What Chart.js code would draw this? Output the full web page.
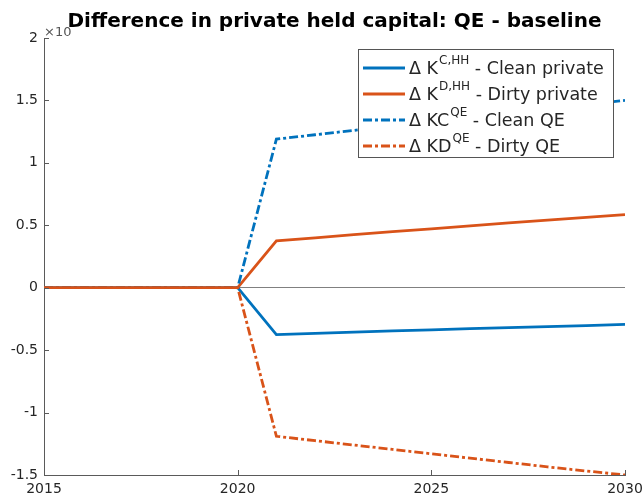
<!DOCTYPE html>
<html>
<head>
<meta charset="utf-8">
<script src="https://cdn.jsdelivr.net/npm/chart.js@4.4.0/dist/chart.umd.min.js"></script>
<style>
  body { margin: 0; background: #fff; }
</style>
</head>
<body>
<canvas id="myChart" width="642" height="496"></canvas>
<script>
// Daten -------------------------------------------------------------------
const years = [2015, 2016, 2017, 2018, 2019, 2020, 2021, 2022, 2023, 2024, 2025, 2026, 2027, 2028, 2029, 2030];

const cleanPrivate = [0, 0, 0, 0, 0, 0, -0.376, -0.366, -0.356, -0.346, -0.337, -0.328, -0.319, -0.311, -0.303, -0.293];
const dirtyPrivate = [0, 0, 0, 0, 0, 0, 0.376, 0.400, 0.425, 0.449, 0.472, 0.496, 0.519, 0.541, 0.563, 0.585];
const cleanQE      = [0, 0, 0, 0, 0, 0, 1.19, 1.225, 1.26, 1.295, 1.33, 1.365, 1.40, 1.435, 1.468, 1.50];
const dirtyQE      = [0, 0, 0, 0, 0, 0, -1.19, -1.225, -1.26, -1.295, -1.33, -1.365, -1.40, -1.435, -1.468, -1.50];

const yTicks = [2, 1.5, 1, 0.5, 0, -0.5, -1, -1.5];
const xTicks = [2015, 2020, 2025, 2030];

// Legende: Basis, Hochgestellt, Rest
const legendBase = ['\u0394 K', '\u0394 K', '\u0394 KC', '\u0394 KD'];
const legendSup  = ['C,HH', 'D,HH', 'QE', 'QE'];
const legendTail = [' - Clean private', ' - Dirty private', ' - Clean QE', ' - Dirty QE'];

const titleText = 'Difference in private held capital: QE - baseline';
//-------------------------------------------------------------------------

const blue = '#0072BD';
const orange = '#D95319';
const axisColor = '#5a5a5a';
const textColor = '#262626';
const dashDot = [9, 3, 3, 3];

function toPoints(arr) {
    return arr.map((v, i) => ({ x: years[i], y: v }));
}

const seriesList = [cleanPrivate, dirtyPrivate, cleanQE, dirtyQE];
const colors = [blue, orange, blue, orange];
const dashes = [[], [], dashDot, dashDot];

// Titel + x10 + Legende selber zeichnen (wegen Hochstellung)
const extraDraw = {
    id: 'extraDraw',
    afterDraw(chart) {
        const c = chart.ctx;
        const area = chart.chartArea;
        c.save();

        // Ticks nach innen wie in Matlab
        const xs = chart.scales.x, ys = chart.scales.y;
        c.strokeStyle = axisColor;
        c.lineWidth = 1;
        c.beginPath();
        xTicks.forEach(t => {
            const px = Math.round(xs.getPixelForValue(t)) + 0.5;
            c.moveTo(px, area.bottom);
            c.lineTo(px, area.bottom - 5);
        });
        yTicks.forEach(t => {
            const py = Math.round(ys.getPixelForValue(t)) + 0.5;
            c.moveTo(area.left, py);
            c.lineTo(area.left + 5, py);
        });
        c.stroke();

        // x10 Exponent
        c.fillStyle = '#555';
        c.font = '13px "DejaVu Sans"';
        c.textAlign = 'left';
        c.textBaseline = 'alphabetic';
        c.fillText('\u00d710', area.left, area.top - 2);

        // Titel
        c.fillStyle = '#000';
        c.font = 'bold 20px "DejaVu Sans"';
        c.textAlign = 'center';
        c.textBaseline = 'middle';
        c.fillText(titleText, (area.left + area.right) / 2, 22);

        // Legende
        const bx = 358, by = 49, bw = 255, bh = 108;
        c.fillStyle = '#fff';
        c.fillRect(bx, by, bw, bh);
        c.strokeStyle = '#555';
        c.lineWidth = 1;
        c.strokeRect(bx + 0.5, by + 0.5, bw, bh);

        for (let i = 0; i < legendBase.length; i++) {
            const y = 68 + i * 26;
            c.strokeStyle = colors[i];
            c.lineWidth = 2.8;
            c.setLineDash(dashes[i]);
            c.beginPath();
            c.moveTo(363, y);
            c.lineTo(405, y);
            c.stroke();
            c.setLineDash([]);

            c.fillStyle = textColor;
            c.textAlign = 'left';
            c.textBaseline = 'middle';
            let x = 409;
            c.font = '17.5px "DejaVu Sans"';
            c.fillText(legendBase[i], x, y + 1);
            x += c.measureText(legendBase[i]).width;
            c.font = '12px "DejaVu Sans"';
            c.fillText(legendSup[i], x + 1, y - 7);
            x += c.measureText(legendSup[i]).width + 1;
            c.font = '17.5px "DejaVu Sans"';
            c.fillText(legendTail[i], x, y + 1);
        }
        c.restore();
    }
};

const ctx = document.getElementById('myChart').getContext('2d');
const myChart = new Chart(ctx, {
    type: 'line',
    data: {
        datasets: seriesList.map((s, i) => ({
            label: legendBase[i] + legendSup[i] + legendTail[i],
            data: toPoints(s),
            borderColor: colors[i],
            borderWidth: 2.8,
            borderDash: dashes[i],
            pointRadius: 0,
            tension: 0,
            fill: false,
            order: 3 - i   // letzte Reihe oben wie in Matlab
        }))
    },
    options: {
        responsive: false,
        animation: false,
        layout: { padding: { left: 0, top: 38, right: 17, bottom: 0 } },
        scales: {
            x: {
                type: 'linear',
                min: 2015,
                max: 2030,
                afterFit: s => { s.height = 21; s.paddingLeft = 0; s.paddingRight = 0; },
                afterBuildTicks: s => { s.ticks = xTicks.map(v => ({ value: v })); },
                grid: { display: false, drawTicks: false },
                border: { color: axisColor, width: 1 },
                ticks: {
                    color: textColor,
                    font: { family: 'DejaVu Sans', size: 14 },
                    padding: 6,
                    maxRotation: 0,
                    autoSkip: false,
                    callback: v => String(v)
                }
            },
            y: {
                min: -1.5,
                max: 2,
                afterFit: s => { s.width = 44; s.paddingTop = 0; s.paddingBottom = 0; },
                afterBuildTicks: s => { s.ticks = yTicks.map(v => ({ value: v })); },
                grid: {
                    drawTicks: false,
                    color: c => (c.tick && c.tick.value === 0) ? '#808080' : 'rgba(0,0,0,0)',
                    lineWidth: 1
                },
                border: { color: axisColor, width: 1 },
                ticks: {
                    color: textColor,
                    font: { family: 'DejaVu Sans', size: 14 },
                    padding: 6,
                    autoSkip: false,
                    callback: v => String(v)
                }
            }
        },
        plugins: {
            legend: { display: false },
            title: { display: false },
            tooltip: { enabled: false }
        }
    },
    plugins: [extraDraw]
});
</script>
</body>
</html>
